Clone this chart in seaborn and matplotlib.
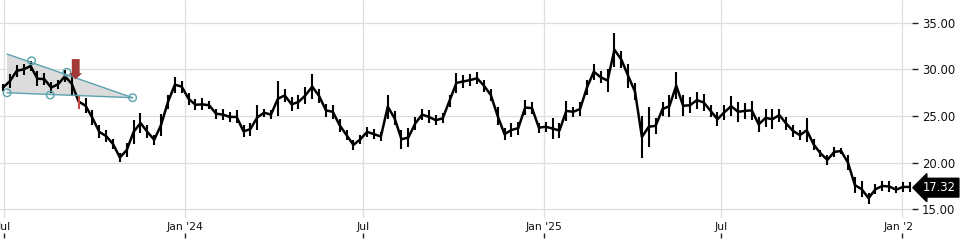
import matplotlib
matplotlib.use("Agg")
import matplotlib.pyplot as plt
import matplotlib.dates as mdates
from matplotlib.transforms import Bbox, TransformedBbox, blended_transform_factory
from matplotlib.patches import Polygon, FancyArrow
import numpy as np
import pandas as pd
import seaborn as sns

# ---------------- data ----------------
week_start = "2023-06-30"
week_low = [27.7, 28.0, 29.2, 29.4, 29.8, 28.2, 28.3, 27.5, 27.9, 28.6,
            27.3, 25.8, 25.3, 24.0, 22.6, 22.2, 21.5, 20.1, 20.6, 22.0,
            23.2, 22.6, 21.9, 22.9, 25.8, 27.5, 27.5, 26.2, 25.6, 25.6,
            25.7, 24.7, 24.6, 24.4, 24.2, 22.7, 22.9, 23.5, 24.9, 24.7,
            25.0, 26.5, 25.5, 25.8, 26.3, 26.8, 26.4, 24.9, 24.7, 23.3,
            22.4, 21.4, 22.0, 22.8, 22.5, 22.3, 24.7, 24.0, 21.5, 21.7,
            23.5, 24.6, 24.2, 24.0, 24.2, 26.0, 27.5, 28.0, 28.2, 28.4,
            27.6, 26.6, 24.0, 22.4, 22.8, 23.0, 25.1, 25.2, 23.2, 23.3,
            22.5, 22.6, 24.5, 24.9, 25.0, 27.2, 28.9, 28.5, 27.6, 30.3,
            30.1, 28.0, 26.7, 20.5, 21.7, 23.1, 25.0, 24.9, 26.8, 25.0,
            25.3, 25.8, 25.5, 24.9, 23.9, 24.6, 25.0, 24.4, 24.7, 24.6,
            23.3, 23.8, 23.6, 24.4, 23.5, 22.8, 22.4, 22.2, 21.4, 20.6,
            19.8, 20.6, 20.9, 19.2, 16.7, 16.3, 15.6, 16.6, 17.0, 16.9,
            16.7, 16.9, 16.9]
week_high = [28.4, 29.5, 30.5, 30.6, 30.9, 29.8, 29.6, 28.6, 28.9, 29.9,
             29.6, 27.3, 26.9, 25.6, 24.0, 23.5, 22.5, 21.0, 22.1, 24.6,
             25.3, 24.0, 23.0, 25.2, 27.2, 29.2, 28.8, 27.5, 26.8, 26.9,
             26.6, 25.8, 25.7, 25.4, 25.6, 24.0, 24.3, 26.2, 25.8, 25.6,
             28.7, 27.9, 27.0, 27.2, 28.1, 29.5, 27.9, 26.3, 26.2, 24.7,
             23.5, 22.4, 23.0, 23.8, 23.6, 23.3, 27.3, 25.5, 23.5, 23.7,
             24.9, 25.7, 25.6, 25.1, 25.3, 27.3, 29.6, 29.4, 29.5, 29.7,
             28.9, 27.9, 26.0, 23.7, 24.2, 24.4, 26.7, 26.5, 24.3, 24.4,
             24.8, 24.3, 26.6, 26.0, 26.5, 28.9, 30.6, 29.8, 30.0, 33.9,
             32.0, 30.6, 28.5, 25.0, 26.0, 24.8, 26.5, 27.2, 29.7, 27.2,
             27.0, 27.6, 27.4, 26.2, 25.4, 26.2, 27.1, 26.5, 26.4, 26.6,
             24.9, 25.8, 25.7, 25.8, 24.9, 24.0, 23.5, 24.75, 22.5, 21.4,
             20.8, 21.7, 21.6, 20.8, 18.5, 18.0, 16.8, 17.7, 18.0, 18.0,
             17.5, 17.9, 17.9]
last_close = 17.32
highlight_weeks = [11]

pattern_dates = ["2023-07-04", "2023-11-09"]
pattern_top = [31.64, 26.96]
pattern_bottom = [27.49, 26.96]
pivot_dates = ["2023-07-04", "2023-07-29", "2023-08-17", "2023-09-03", "2023-11-09"]
pivot_values = [27.49, 30.92, 27.25, 29.68, 26.96]
signal_date = "2023-09-12"
signal_top = 31.1
signal_tip = 28.93

ytick_values = [15, 20, 25, 30, 35]
xtick_dates = ["2023-07-01", "2024-01-01", "2024-07-01", "2025-01-01", "2025-07-01", "2026-01-01"]
xtick_labels = ["Jul", "Jan '24", "Jul", "Jan '25", "Jul", "Jan '26"]

# ---------------- figure ----------------
sns.set_theme(style="white")
plt.rcParams["font.family"] = ["DejaVu Sans"]

fig = plt.figure(figsize=(9.6, 2.4), dpi=100)
ax = fig.add_axes([0.0, 22 / 240, 912 / 960, 218 / 240])

dates = pd.date_range(week_start, periods=len(week_low), freq="7D")
df = pd.DataFrame({"date": dates, "low": week_low, "high": week_high})
df["mid"] = (df["low"] + df["high"]) / 2

# chart pattern (triangle) behind the bars
pd_num = mdates.date2num(pd.to_datetime(pattern_dates))
tri = Polygon([(pd_num[0], pattern_top[0]), (pd_num[1], pattern_top[1]),
               (pd_num[0], pattern_bottom[0])], closed=True,
              facecolor="#d9d9d9", edgecolor="none", alpha=0.9, zorder=1)
ax.add_patch(tri)

# price trace: weekly range bars joined by a mid line
sns.lineplot(data=df, x="date", y="mid", ax=ax, color="black", linewidth=1.8,
             estimator=None, zorder=3)
colors = ["#c9483f" if i in highlight_weeks else "black" for i in range(len(df))]
ax.vlines(df["date"], df["low"], df["high"], colors=colors, linewidth=1.5, zorder=4)

teal = "#5aa3ad"
ax.plot(pd.to_datetime(pattern_dates), pattern_top, color=teal, lw=1.0, zorder=5)
ax.plot(pd.to_datetime(pattern_dates), pattern_bottom, color=teal, lw=1.0, zorder=5)
ax.scatter(pd.to_datetime(pivot_dates), pivot_values, s=30, facecolors="none",
           edgecolors=teal, linewidths=1.0, zorder=6)

sx = mdates.date2num(pd.Timestamp(signal_date))
arr = FancyArrow(sx, signal_top, 0, signal_tip - signal_top, width=8.0,
                 head_width=13.0, head_length=0.65, length_includes_head=True,
                 facecolor="#a33a38", edgecolor="none", zorder=7)
ax.add_patch(arr)

# axes limits and styling
ax.set_xlim(mdates.date2num(pd.Timestamp("2023-06-26 20:00")),
            mdates.date2num(pd.Timestamp("2026-01-11 06:00")))
ax.set_ylim(14.07, 37.43)
ax.set_xlabel("")
ax.set_ylabel("")
for s in ax.spines.values():
    s.set_visible(False)
ax.grid(True, color="#dedede", linewidth=0.9)
ax.set_axisbelow(True)

ax.yaxis.tick_right()
ax.set_yticks(ytick_values)
ax.set_yticklabels([f"{v:.2f}" for v in ytick_values])
ax.tick_params(axis="y", direction="out", length=4, width=1.0, color="#222222",
               labelsize=8.4, labelcolor="#111111", pad=3, right=True, left=False)

ax.set_xticks(mdates.date2num(pd.to_datetime(xtick_dates)))
ax.set_xticklabels(xtick_labels)
ax.tick_params(axis="x", length=0, labelsize=7.8, labelcolor="#111111", pad=3)
clipbox = TransformedBbox(Bbox([[0, 0], [912 / 960, 1]]), fig.transFigure)
for t in ax.xaxis.get_major_ticks():
    t.label1.set_clip_box(clipbox)
    t.label1.set_clip_on(True)

# small tick marks below the labels
sec = ax.secondary_xaxis(-(237.5 - 218) / 218)
sec.set_xticks(mdates.date2num(pd.to_datetime(xtick_dates)))
sec.set_xticklabels([])
sec.tick_params(axis="x", direction="in", length=3.3, width=1.0, color="#222222")
for s in sec.spines.values():
    s.set_visible(False)

# last price marker
tr = blended_transform_factory(ax.transAxes, ax.transData)
ax.text(1.0 + 11 / 912, last_close, f"{last_close:.2f}", transform=tr, ha="left",
        va="center", color="white", fontsize=8.3, clip_on=False, zorder=10,
        bbox=dict(boxstyle="larrow,pad=0.25", facecolor="black", edgecolor="black"))

fig.savefig("out.png", dpi=100)
